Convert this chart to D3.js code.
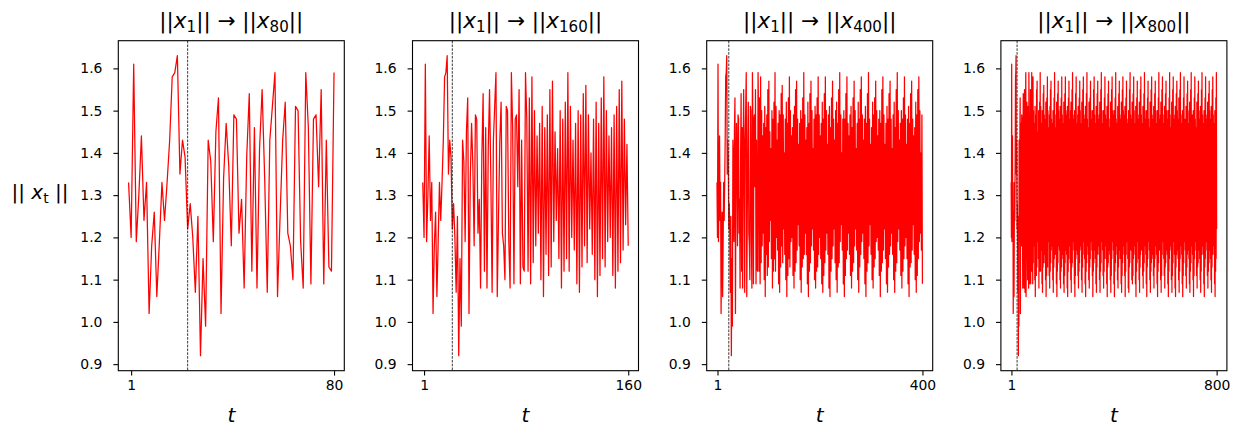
<!DOCTYPE html>
<html>
<head>
<meta charset="utf-8">
<script src="https://cdn.jsdelivr.net/npm/d3@7"></script>
<style>
    body { margin: 0; background: #fff; }
    svg text { font-family: "DejaVu Sans", sans-serif; fill: #000; }
</style>
</head>
<body>
<div id="graph"></div>
<script>
// horizon of each panel and the step where the dashed marker sits
var horizons = [80, 160, 400, 800];
var switchStep = 23;
var yTicks = [0.9, 1.0, 1.1, 1.2, 1.3, 1.4, 1.5, 1.6];

// ||x_t|| for t = 0..80
var normsTo80 = [
    1.33, 1.20, 1.61, 1.19, 1.30, 1.44, 1.24, 1.33, 1.02, 1.18,
    1.26, 1.06, 1.19, 1.33, 1.24, 1.33, 1.43, 1.58, 1.59, 1.63,
    1.35, 1.43, 1.39, 1.22, 1.28, 1.20, 1.07, 1.25, 0.92, 1.15,
    0.99, 1.43, 1.38, 1.19, 1.45, 1.53, 1.02, 1.34, 1.47, 1.37,
    1.18, 1.49, 1.48, 1.21, 1.29, 1.08, 1.39, 1.54, 1.12, 1.46,
    1.08, 1.41, 1.55, 1.34, 1.07, 1.43, 1.51, 1.59, 1.06, 1.25,
    1.43, 1.52, 1.21, 1.18, 1.10, 1.51, 1.50, 1.19, 1.08, 1.59,
    1.46, 1.09, 1.48, 1.49, 1.32, 1.55, 1.09, 1.43, 1.13, 1.12,
    1.59
];

// t = 81..160
var norms81to160 = [
    1.48, 1.12, 1.53, 1.09, 1.58, 1.14, 1.50, 1.18, 1.44, 1.21, 1.47, 1.10, 1.51, 1.06, 1.46,
    1.16, 1.49, 1.11, 1.55, 1.13, 1.57, 1.19, 1.45, 1.24, 1.41, 1.15, 1.50, 1.08, 1.48, 1.12,
    1.52, 1.15, 1.59, 1.12, 1.51, 1.20, 1.43, 1.17, 1.47, 1.09, 1.50, 1.07, 1.49, 1.13, 1.54,
    1.18, 1.56, 1.14, 1.49, 1.22, 1.40, 1.16, 1.48, 1.10, 1.52, 1.06, 1.47, 1.11, 1.53, 1.15,
    1.58, 1.13, 1.50, 1.19, 1.44, 1.20, 1.46, 1.11, 1.49, 1.08, 1.51, 1.12, 1.55, 1.14, 1.57,
    1.17, 1.48, 1.23, 1.42, 1.18
];

// t = 161..400
var norms161to400 = [
    1.47, 1.10, 1.50, 1.07, 1.48, 1.13, 1.53, 1.15, 1.59, 1.16,
    1.49, 1.21, 1.43, 1.16, 1.46, 1.09, 1.52, 1.06, 1.47, 1.12, 1.54, 1.14, 1.57, 1.18, 1.50,
    1.22, 1.41, 1.17, 1.48, 1.10, 1.51, 1.08, 1.49, 1.12, 1.53, 1.13, 1.58, 1.16, 1.49, 1.20,
    1.44, 1.15, 1.47, 1.09, 1.52, 1.07, 1.48, 1.11, 1.54, 1.14, 1.58, 1.17, 1.50, 1.21, 1.42,
    1.16, 1.49, 1.08, 1.51, 1.06, 1.46, 1.12, 1.53, 1.15, 1.57, 1.18, 1.48, 1.22, 1.43, 1.14,
    1.50, 1.10, 1.52, 1.07, 1.47, 1.13, 1.55, 1.14, 1.59, 1.19, 1.49, 1.23, 1.40, 1.17, 1.48,
    1.09, 1.50, 1.06, 1.48, 1.11, 1.54, 1.15, 1.58, 1.17, 1.47, 1.21, 1.44, 1.16, 1.49, 1.11,
    1.51, 1.08, 1.46, 1.12, 1.53, 1.14, 1.57, 1.18, 1.50, 1.22, 1.41, 1.17, 1.47, 1.10, 1.52,
    1.07, 1.48, 1.13, 1.55, 1.16, 1.58, 1.19, 1.49, 1.21, 1.43, 1.15, 1.48, 1.09, 1.51, 1.06,
    1.47, 1.12, 1.54, 1.14, 1.59, 1.18, 1.48, 1.23, 1.42, 1.16, 1.46, 1.10, 1.52, 1.08, 1.49,
    1.13, 1.53, 1.15, 1.57, 1.19, 1.50, 1.20, 1.44, 1.17, 1.48, 1.11, 1.50, 1.06, 1.47, 1.12,
    1.55, 1.14, 1.58, 1.17, 1.49, 1.22, 1.42, 1.15, 1.47, 1.09, 1.51, 1.07, 1.48, 1.13, 1.54,
    1.16, 1.57, 1.18, 1.48, 1.21, 1.41, 1.16, 1.49, 1.10, 1.52, 1.07, 1.46, 1.12, 1.55, 1.14,
    1.59, 1.19, 1.50, 1.22, 1.43, 1.17, 1.47, 1.11, 1.50, 1.08, 1.48, 1.12, 1.53, 1.15, 1.58,
    1.18, 1.49, 1.20, 1.42, 1.15, 1.48, 1.09, 1.51, 1.06, 1.47, 1.13, 1.54, 1.14, 1.57, 1.17,
    1.48, 1.23, 1.44, 1.16, 1.46, 1.10, 1.52, 1.07, 1.49, 1.11, 1.55, 1.15, 1.58, 1.19, 1.50,
    1.21, 1.40, 1.17, 1.49, 1.09
];

// t = 401..800
var norms401to800 = [
    1.50, 1.06, 1.48, 1.12, 1.53, 1.14, 1.59, 1.18, 1.48, 1.22,
    1.43, 1.16, 1.47, 1.10, 1.51, 1.08, 1.47, 1.13, 1.54, 1.15, 1.57, 1.17, 1.49, 1.20, 1.41,
    1.15, 1.48, 1.09, 1.52, 1.07, 1.46, 1.11, 1.55, 1.14, 1.58, 1.18, 1.50, 1.21, 1.44, 1.16,
    1.49, 1.11, 1.51, 1.06, 1.48, 1.12, 1.53, 1.16, 1.57, 1.19, 1.48, 1.22, 1.42, 1.15, 1.47,
    1.08, 1.50, 1.07, 1.47, 1.13, 1.55, 1.14, 1.59, 1.17, 1.49, 1.23, 1.43, 1.17, 1.48, 1.10,
    1.52, 1.09, 1.46, 1.11, 1.54, 1.15, 1.58, 1.18, 1.50, 1.20, 1.40, 1.16, 1.47, 1.09, 1.51,
    1.06, 1.49, 1.12, 1.53, 1.14, 1.57, 1.19, 1.48, 1.22, 1.44, 1.15, 1.49, 1.10, 1.52, 1.07,
    1.46, 1.13, 1.55, 1.16, 1.58, 1.17, 1.49, 1.21, 1.41, 1.17, 1.47, 1.11, 1.51, 1.08, 1.48,
    1.12, 1.54, 1.14, 1.59, 1.18, 1.50, 1.23, 1.43, 1.16, 1.48, 1.09, 1.50, 1.06, 1.49, 1.13,
    1.53, 1.15, 1.57, 1.19, 1.48, 1.20, 1.42, 1.17, 1.46, 1.10, 1.52, 1.07, 1.47, 1.12, 1.55,
    1.14, 1.58, 1.16, 1.49, 1.22, 1.44, 1.15, 1.48, 1.11, 1.51, 1.08, 1.48, 1.13, 1.54, 1.15,
    1.57, 1.18, 1.50, 1.21, 1.40, 1.16, 1.47, 1.09, 1.50, 1.06, 1.46, 1.12, 1.53, 1.14, 1.59,
    1.17, 1.48, 1.23, 1.43, 1.17, 1.49, 1.10, 1.52, 1.07, 1.48, 1.11, 1.55, 1.16, 1.58, 1.19,
    1.49, 1.20, 1.42, 1.15, 1.47, 1.11, 1.51, 1.08, 1.49, 1.13, 1.54, 1.14, 1.57, 1.17, 1.50,
    1.22, 1.44, 1.16, 1.48, 1.09, 1.50, 1.06, 1.47, 1.12, 1.53, 1.15, 1.59, 1.18, 1.49, 1.21,
    1.41, 1.17, 1.46, 1.10, 1.52, 1.07, 1.48, 1.11, 1.55, 1.14, 1.58, 1.19, 1.48, 1.22, 1.43,
    1.16, 1.49, 1.08, 1.51, 1.06, 1.47, 1.13, 1.54, 1.16, 1.57, 1.17, 1.50, 1.20, 1.42, 1.15,
    1.48, 1.10, 1.53, 1.07, 1.49, 1.12, 1.55, 1.15, 1.59, 1.18, 1.49, 1.23, 1.44, 1.16, 1.47,
    1.09, 1.50, 1.06, 1.46, 1.11, 1.53, 1.14, 1.58, 1.19, 1.48, 1.21, 1.41, 1.17, 1.48, 1.11,
    1.51, 1.08, 1.48, 1.13, 1.54, 1.16, 1.57, 1.17, 1.50, 1.22, 1.43, 1.15, 1.47, 1.09, 1.52,
    1.07, 1.47, 1.12, 1.55, 1.14, 1.59, 1.18, 1.49, 1.20, 1.42, 1.16, 1.49, 1.10, 1.50, 1.06,
    1.48, 1.11, 1.53, 1.15, 1.58, 1.19, 1.48, 1.23, 1.40, 1.17, 1.46, 1.11, 1.52, 1.08, 1.49,
    1.13, 1.54, 1.14, 1.57, 1.17, 1.50, 1.21, 1.44, 1.15, 1.48, 1.10, 1.51, 1.07, 1.47, 1.12,
    1.55, 1.16, 1.59, 1.18, 1.49, 1.22, 1.42, 1.16, 1.47, 1.09, 1.50, 1.06, 1.48, 1.13, 1.53,
    1.15, 1.58, 1.19, 1.48, 1.20, 1.43, 1.17, 1.49, 1.11, 1.52, 1.08, 1.46, 1.12, 1.54, 1.14,
    1.57, 1.17, 1.50, 1.23, 1.41, 1.15, 1.48, 1.10, 1.51, 1.07, 1.47, 1.13, 1.55, 1.16, 1.58,
    1.18, 1.49, 1.21, 1.44, 1.16, 1.47, 1.09, 1.50, 1.06, 1.48, 1.12, 1.53, 1.15, 1.59, 1.22
];

var allNorms = normsTo80.concat(norms81to160, norms161to400, norms401to800);

var width = 1233,
    height = 426,
    panelLefts = [118.3, 412.5, 706.7, 1000.9],
    panelWidth = 226,
    plotTop = 40.7,
    plotBottom = 370.7,
    tickLen = 4.9;

var svg = d3.select('#graph')
    .append('svg')
    .attr('width', width)
    .attr('height', height);

// writes ||x_a|| -> ||x_b|| style math into a text node
function mathText(text, parts, size) {
    var shift = size * 0.22;
    parts.forEach(function(p) {
        var ts = text.append('tspan').text(p.s);
        if (p.it) ts.attr('font-style', 'italic');
        if (p.sub) ts.attr('font-size', size * 0.7).attr('dy', shift);
        if (p.back) ts.attr('dy', -shift);
    });
}

horizons.forEach(function(n, k) {
    var series = allNorms.slice(0, n + 1).map(function(v, t) {
        return { t: t, v: v };
    });

    var ext = d3.extent(series, function(d) { return d.v; });
    var pad = (ext[1] - ext[0]) * 0.05;

    var x = d3.scaleLinear()
        .domain([-0.05 * n, 1.05 * n])
        .range([panelLefts[k], panelLefts[k] + panelWidth]);
    var y = d3.scaleLinear()
        .domain([ext[0] - pad, ext[1] + pad])
        .range([plotBottom, plotTop]);

    var g = svg.append('g');

    // the norm trajectory
    g.append('path')
        .datum(series)
        .attr('fill', 'none')
        .attr('stroke', '#ff0000')
        .attr('stroke-width', 1.25)
        .attr('stroke-linejoin', 'round')
        .attr('d', d3.line()
            .x(function(d) { return x(d.t); })
            .y(function(d) { return y(d.v); }));

    // dashed marker
    g.append('line')
        .attr('x1', x(switchStep))
        .attr('x2', x(switchStep))
        .attr('y1', plotTop)
        .attr('y2', plotBottom)
        .attr('stroke', '#222')
        .attr('stroke-width', 0.9)
        .attr('stroke-dasharray', '2.6,1.2');

    var yAxis = g.append('g')
        .attr('transform', 'translate(' + panelLefts[k] + ',0)')
        .call(d3.axisLeft(y).tickValues(yTicks).tickFormat(d3.format('.1f'))
            .tickSize(tickLen).tickPadding(11));
    var xAxis = g.append('g')
        .attr('transform', 'translate(0,' + plotBottom + ')')
        .call(d3.axisBottom(x).tickValues([1, n]).tickFormat(d3.format('d'))
            .tickSize(tickLen).tickPadding(5));

    [yAxis, xAxis].forEach(function(a) {
        a.select('.domain').remove();
        a.selectAll('.tick line').attr('stroke', '#000').attr('stroke-width', 1.1);
        a.selectAll('.tick text')
            .attr('fill', '#000')
            .style('font-size', '13.9px')
            .style('font-family', '"DejaVu Sans", sans-serif');
    });

    // frame
    g.append('rect')
        .attr('x', panelLefts[k])
        .attr('y', plotTop)
        .attr('width', panelWidth)
        .attr('height', plotBottom - plotTop)
        .attr('fill', 'none')
        .attr('stroke', '#000')
        .attr('stroke-width', 1.1);

    var cx = panelLefts[k] + panelWidth / 2;

    var title = g.append('text')
        .attr('x', cx)
        .attr('y', 27.5)
        .attr('text-anchor', 'middle')
        .style('font-size', '21.5px');
    mathText(title, [
        { s: '||' }, { s: 'x', it: true }, { s: '1', sub: true },
        { s: '||\u00a0\u2192\u00a0||', back: true }, { s: 'x', it: true }, { s: String(n), sub: true },
        { s: '||', back: true }
    ], 21.5);

    g.append('text')
        .attr('x', cx)
        .attr('y', 422)
        .attr('text-anchor', 'middle')
        .attr('font-style', 'italic')
        .style('font-size', '20px')
        .text('t');
});

var ylab = svg.append('text')
    .attr('x', 40)
    .attr('y', 199)
    .attr('text-anchor', 'middle')
    .style('font-size', '20px');
mathText(ylab, [
    { s: '|| ' }, { s: 'x', it: true }, { s: 't', sub: true }, { s: ' ||', back: true }
], 20);
</script>
</body>
</html>
